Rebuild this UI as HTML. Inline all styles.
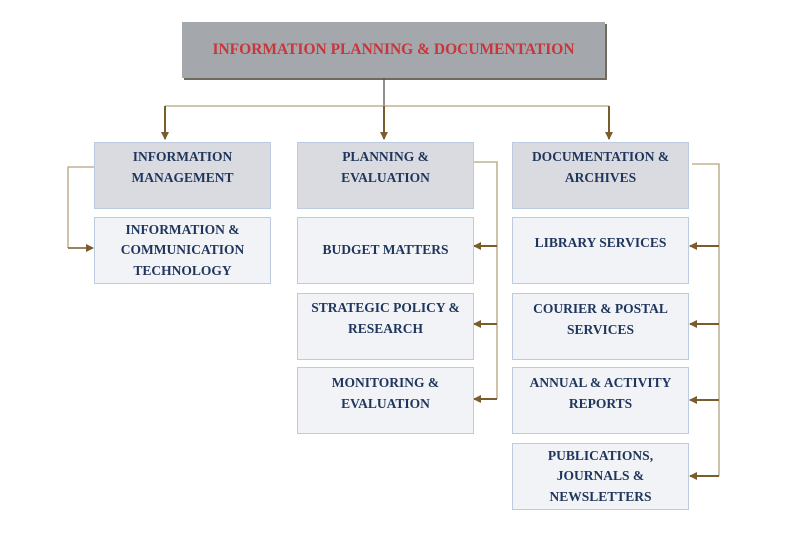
<!DOCTYPE html>
<html><head><style>
body{margin:0;width:800px;height:533px;background:#fff;position:relative;overflow:hidden;font-family:"Liberation Serif",serif;font-weight:bold}
.b{position:absolute;box-sizing:border-box;border:1.5px solid #bccbe0;display:flex;align-items:center;justify-content:center;text-align:center;color:#1f355c;font-size:13.5px;line-height:20.5px}
.h{background:#d9dbe0}
.s{background:#f1f3f6}
</style></head><body>
<div style="position:absolute;left:182px;top:22px;width:423px;height:56px;background:#a4a7ac;box-shadow:2px 2px 0 #6e6a5e;display:flex;align-items:center;justify-content:center;color:#c7363a;font-size:15.5px">INFORMATION PLANNING &amp; DOCUMENTATION</div>
<svg width="800" height="533" style="position:absolute;left:0;top:0">
<defs><marker id="a" markerWidth="8" markerHeight="8" refX="7" refY="4" orient="auto" markerUnits="userSpaceOnUse"><path d="M0,0 L8,4 L0,8 Z" fill="#7a5c2e"/></marker></defs>
<g fill="none" stroke="#b5a27c" stroke-width="1.3">
<line x1="384" y1="78" x2="384" y2="106" stroke="#555"/>
<line x1="165" y1="106" x2="609" y2="106"/>
<polyline points="94,167 68,167 68,248"/>
<polyline points="474,162 497,162 497,399"/>
<polyline points="692,164 719,164 719,476"/>
</g>
<g stroke="#7a5c2e" stroke-width="2" marker-end="url(#a)">
<line x1="165" y1="106" x2="165" y2="139"/>
<line x1="384" y1="106" x2="384" y2="139"/>
<line x1="609" y1="106" x2="609" y2="139"/>
<line x1="68" y1="248" x2="93" y2="248" stroke-width="1.5"/>
<line x1="497" y1="246" x2="474" y2="246"/>
<line x1="497" y1="324" x2="474" y2="324"/>
<line x1="497" y1="399" x2="474" y2="399"/>
<line x1="719" y1="246" x2="690" y2="246"/>
<line x1="719" y1="324" x2="690" y2="324"/>
<line x1="719" y1="400" x2="690" y2="400"/>
<line x1="719" y1="476" x2="690" y2="476"/>
</g>
</svg>
<div class="b h" style="left:94px;top:142px;width:177px;height:67px;align-items:flex-start;padding-top:4px">INFORMATION<br>MANAGEMENT</div>
<div class="b s" style="left:94px;top:217px;width:177px;height:67px">INFORMATION &amp;<br>COMMUNICATION<br>TECHNOLOGY</div>
<div class="b h" style="left:297px;top:142px;width:177px;height:67px;align-items:flex-start;padding-top:4px">PLANNING &amp;<br>EVALUATION</div>
<div class="b s" style="left:297px;top:217px;width:177px;height:67px">BUDGET MATTERS</div>
<div class="b s" style="left:297px;top:293px;width:177px;height:67px;align-items:flex-start;padding-top:4px">STRATEGIC POLICY &amp;<br>RESEARCH</div>
<div class="b s" style="left:297px;top:367px;width:177px;height:67px;align-items:flex-start;padding-top:5px">MONITORING &amp;<br>EVALUATION</div>
<div class="b h" style="left:512px;top:142px;width:177px;height:67px;align-items:flex-start;padding-top:4px">DOCUMENTATION &amp;<br>ARCHIVES</div>
<div class="b s" style="left:512px;top:217px;width:177px;height:67px;align-items:flex-start;padding-top:15px">LIBRARY SERVICES</div>
<div class="b s" style="left:512px;top:293px;width:177px;height:67px;align-items:flex-start;padding-top:5px">COURIER &amp; POSTAL<br>SERVICES</div>
<div class="b s" style="left:512px;top:367px;width:177px;height:67px;align-items:flex-start;padding-top:5px">ANNUAL &amp; ACTIVITY<br>REPORTS</div>
<div class="b s" style="left:512px;top:443px;width:177px;height:67px">PUBLICATIONS,<br>JOURNALS &amp;<br>NEWSLETTERS</div>
</body></html>
